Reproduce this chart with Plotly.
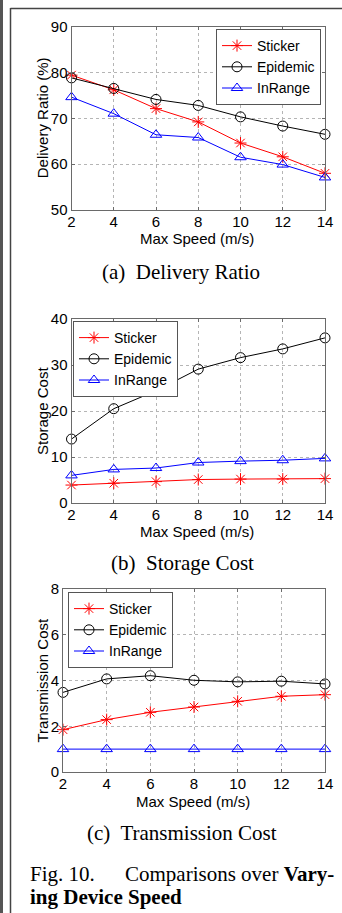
import plotly.graph_objects as go

W, H = 342, 913

speed = [2, 4, 6, 8, 10, 12, 14]
series_names = ["Sticker", "Epidemic", "InRange"]

dr_sticker = [79.4, 76.2, 72.1, 69.2, 64.6, 61.6, 58.0]
dr_epidemic = [78.8, 76.5, 74.1, 72.8, 70.3, 68.3, 66.5]
dr_inrange = [74.6, 71.0, 66.4, 65.8, 61.5, 59.9, 57.1]

sc_sticker = [3.9, 4.3, 4.65, 5.1, 5.2, 5.2, 5.3]
sc_epidemic = [13.9, 20.5, 24.4, 29.1, 31.6, 33.5, 35.9]
sc_inrange = [6.0, 7.3, 7.6, 8.8, 9.1, 9.3, 9.7]

tc_sticker = [1.85, 2.29, 2.61, 2.84, 3.09, 3.31, 3.38]
tc_epidemic = [3.48, 4.07, 4.21, 4.01, 3.94, 3.97, 3.85]
tc_inrange = [1.0, 1.0, 1.0, 1.0, 1.0, 1.0, 1.0]

x_ticks = [2, 4, 6, 8, 10, 12, 14]
y_titles = ["Delivery Ratio (%)", "Storage Cost", "Transmission Cost"]
x_title = "Max Speed (m/s)"
captions = ["(a)&nbsp; Delivery Ratio", "(b)&nbsp; Storage Cost", "(c)&nbsp; Transmission Cost"]

colors = ["#ff0000", "#000000", "#0000ff"]
symbols = ["asterisk-open", "circle-open", "triangle-up-open"]

SANS = "Liberation Sans, Arial, sans-serif"
SERIF = "Liberation Serif, Times New Roman, serif"

def px_x(p):
    return p / W

def px_y(p):
    return 1 - p / H

# panel geometry in pixels: (left, right, top, bottom)
panels = [
    (71.5, 325, 26.5, 210),
    (71.5, 325, 319, 503),
    (63, 325, 589, 772),
]
y_ranges = [[50, 90], [0, 40], [0, 8]]
y_dticks = [10, 10, 2]
data = [
    [dr_sticker, dr_epidemic, dr_inrange],
    [sc_sticker, sc_epidemic, sc_inrange],
    [tc_sticker, tc_epidemic, tc_inrange],
]
legend_boxes = [  # (x anchor px, y top px, xanchor)
    (321, 29, "right"),
    (73, 321, "left"),
    (68, 592, "left"),
]

fig = go.Figure()
layout = {}
annotations = []
for i in range(3):
    ax = "" if i == 0 else str(i + 1)
    lg = "legend" if i == 0 else f"legend{i + 1}"
    for j in range(3):
        fig.add_trace(go.Scatter(
            x=speed, y=data[i][j], name=series_names[j],
            mode="lines+markers",
            line=dict(color=colors[j], width=1),
            marker=dict(symbol=symbols[j], size=10, color=colors[j],
                        line=dict(color=colors[j], width=1)),
            xaxis="x" + ax, yaxis="y" + ax, legend=lg,
            cliponaxis=False,
        ))
    l, r, t, b = panels[i]
    layout["xaxis" + ax] = dict(
        domain=[px_x(l), px_x(r)], range=[2, 14], anchor="y" + ax,
        tickvals=x_ticks, showgrid=True, gridcolor="#b5b5b5", griddash="dot",
        gridwidth=1, showline=True, linecolor="#6a6a6a", linewidth=1, mirror="ticks",
        ticks="inside", ticklen=3, tickcolor="#6a6a6a",
        tickfont=dict(family=SANS, size=15, color="#000"), zeroline=False,
        ticklabelstandoff=-2, automargin=False,
    )
    layout["yaxis" + ax] = dict(
        domain=[px_y(b), px_y(t)], range=y_ranges[i], anchor="x" + ax,
        dtick=y_dticks[i], showgrid=True, gridcolor="#b5b5b5", griddash="dot",
        gridwidth=1, showline=True, linecolor="#6a6a6a", linewidth=1, mirror="ticks",
        ticks="inside", ticklen=3, tickcolor="#6a6a6a",
        tickfont=dict(family=SANS, size=15, color="#000"), zeroline=False,
        ticklabelstandoff=0, automargin=False,
    )
    lx, ly, xa = legend_boxes[i]
    layout[lg] = dict(
        x=px_x(lx), y=px_y(ly), xanchor=xa, yanchor="top",
        bgcolor="#ffffff", bordercolor="#555555", borderwidth=1,
        font=dict(family=SANS, size=14, color="#000"),
        itemwidth=30, tracegroupgap=0,
    )
    # y title
    annotations.append(dict(
        x=px_x(42), y=px_y((t + b) / 2), xref="paper", yref="paper",
        text=y_titles[i], textangle=-90, showarrow=False,
        font=dict(family=SANS, size=15, color="#000"),
        xanchor="center", yanchor="middle",
    ))

# x titles
for cx, cy in [(197, 238), (197, 531), (193, 801)]:
    annotations.append(dict(
        x=px_x(cx), y=px_y(cy), xref="paper", yref="paper", text=x_title,
        showarrow=False, font=dict(family=SANS, size=15, color="#000"),
        xanchor="center", yanchor="middle",
    ))
# captions
for k, (cx, cy) in enumerate([(181, 272), (182, 563), (182, 833)]):
    annotations.append(dict(
        x=px_x(cx), y=px_y(cy), xref="paper", yref="paper", text=captions[k],
        showarrow=False, font=dict(family=SERIF, size=21, color="#000"),
        xanchor="center", yanchor="middle",
    ))
annotations.append(dict(
    x=px_x(28), y=px_y(874), xref="paper", yref="paper", text="Fig. 10.",
    showarrow=False, font=dict(family=SERIF, size=21, color="#000"),
    xanchor="left", yanchor="middle",
))
annotations.append(dict(
    x=px_x(336), y=px_y(874), xref="paper", yref="paper",
    text="Comparisons over <b>Vary-</b>",
    showarrow=False, font=dict(family=SERIF, size=21, color="#000"),
    xanchor="right", yanchor="middle",
))
annotations.append(dict(
    x=px_x(28), y=px_y(897), xref="paper", yref="paper",
    text="<b>ing Device Speed</b>",
    showarrow=False, font=dict(family=SERIF, size=21, color="#000"),
    xanchor="left", yanchor="middle",
))

shapes = [
    dict(type="line", xref="paper", yref="paper", x0=px_x(1.5), x1=px_x(1.5),
         y0=0, y1=1, line=dict(color="#555555", width=3)),
    dict(type="line", xref="paper", yref="paper", x0=px_x(10.5), x1=px_x(10.5),
         y0=0, y1=px_y(8), line=dict(color="#444444", width=1.5)),
    dict(type="line", xref="paper", yref="paper", x0=px_x(10.5), x1=1,
         y0=px_y(8.5), y1=px_y(8.5), line=dict(color="#444444", width=1.5)),
]

fig.update_layout(
    width=W, height=H, margin=dict(l=0, r=0, t=0, b=0, pad=0, autoexpand=False),
    paper_bgcolor="#ffffff", plot_bgcolor="#ffffff",
    annotations=annotations, shapes=shapes, showlegend=True,
    **layout,
)

fig.write_html("out.html")
